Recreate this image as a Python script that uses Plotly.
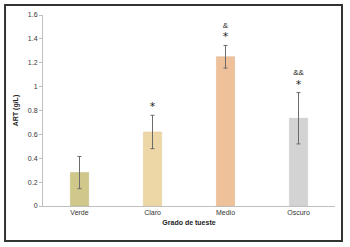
import plotly.graph_objects as go

categories = ["Verde", "Claro", "Medio", "Oscuro"]
values = [0.28, 0.62, 1.25, 0.735]
errors = [0.135, 0.14, 0.095, 0.215]
stars = ["", "*", "*", "*"]
amps = ["", "", "&", "&&"]
colors = ["#cfc88a", "#eed7a6", "#eec19a", "#d3d3d3"]
edge = ["#bdb675", "#e3c993", "#e2b186", "#c6c6c6"]
yticks = [0, 0.2, 0.4, 0.6, 0.8, 1, 1.2, 1.4, 1.6]

tops = [v + e for v, e in zip(values, errors)]

fig = go.Figure()
fig.add_trace(go.Bar(
    x=categories, y=values, width=0.25,
    marker=dict(color=colors, line=dict(color=edge, width=0.5)),
    error_y=dict(type="data", array=errors, color="#6b6b6b", thickness=1, width=2),
))
fig.add_trace(go.Scatter(
    x=categories, y=[t + 0.065 for t in tops],
    mode="text", text=stars, textposition="middle center",
    textfont=dict(family="DejaVu Sans", size=11, color="#222222"),
    hoverinfo="skip", cliponaxis=False,
))
fig.add_trace(go.Scatter(
    x=categories, y=[t + 0.16 for t in tops],
    mode="text", text=amps, textposition="middle center",
    textfont=dict(family="Liberation Sans", size=8, color="#222222"),
    hoverinfo="skip", cliponaxis=False,
))

fig.update_layout(
    width=350, height=247,
    margin=dict(l=43, r=15, t=15, b=41),
    paper_bgcolor="white", plot_bgcolor="white",
    showlegend=False,
    font=dict(family="Liberation Sans, Arial", size=7, color="#404040"),
    xaxis=dict(
        showline=True, linecolor="#bfbfbf", linewidth=1,
        ticks="", tickfont=dict(size=7, color="#333"),
        title=dict(text="<b>Grado de tueste</b>", font=dict(size=7, color="#222"), standoff=4),
    ),
    yaxis=dict(
        range=[0, 1.6], tickvals=yticks,
        ticktext=[str(t) for t in yticks],
        showline=True, linecolor="#bfbfbf", linewidth=1,
        ticks="outside", ticklen=3, tickcolor="#bfbfbf",
        showgrid=False, zeroline=False, tickfont=dict(size=7, color="#333"),
        title=dict(text="<b>ART (g/L)</b>", font=dict(size=7, color="#222"), standoff=8),
    ),
    shapes=[dict(type="rect", xref="paper", yref="paper",
                 x0=-0.130, x1=1.024, y0=-0.183, y1=1.052,
                 line=dict(color="#333333", width=2))],
)

fig.write_html("out.html", config={"displayModeBar": False},
               post_script="document.body.style.margin='0';document.body.style.overflow='hidden';")
